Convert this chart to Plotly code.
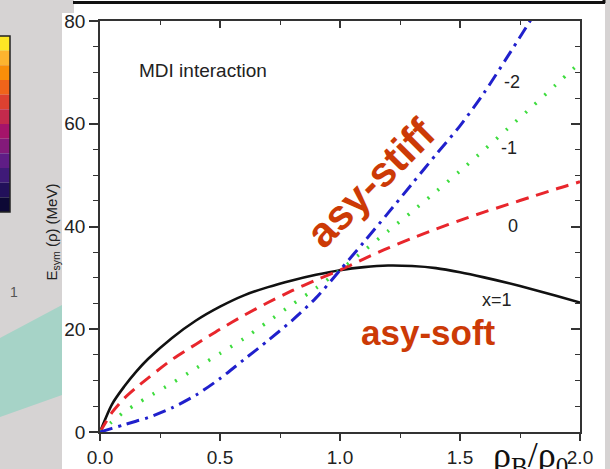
import plotly.graph_objects as go

# ---- data ----
rho = [0, 0.05, 0.1, 0.15, 0.2, 0.3, 0.4, 0.5, 0.6, 0.7, 0.8, 0.9, 1.0,
       1.1, 1.2, 1.3, 1.4, 1.5, 1.6, 1.7, 1.8, 1.9, 2.0]
esym_x1 = [0, 5.4, 8.8, 11.7, 14.2, 18.3, 21.7, 24.4, 26.6, 28.2, 29.5, 30.6, 31.5,
           32.1, 32.4, 32.3, 31.9, 31.1, 30.1, 29.0, 27.8, 26.5, 25.2]
esym_x0 = [0, 3.8, 6.5, 8.6, 10.5, 14.1, 17.1, 20.0, 22.7, 25.2, 27.5, 29.6, 31.5,
           33.7, 35.8, 37.7, 39.5, 41.2, 42.8, 44.3, 45.8, 47.3, 48.7]
esym_xm1 = [0, 2.0, 3.9, 5.4, 6.8, 9.5, 12.4, 15.3, 18.2, 21.5, 24.8, 28.0, 31.5,
            35.3, 39.1, 42.9, 46.8, 50.8, 54.9, 59.1, 63.3, 67.6, 71.9]
rho_m2 = [0, 0.05, 0.1, 0.15, 0.2, 0.3, 0.4, 0.5, 0.6, 0.7, 0.8, 0.9, 1.0,
          1.1, 1.2, 1.3, 1.4, 1.5, 1.6, 1.7, 1.8]
esym_xm2 = [0, 0.7, 1.4, 2.1, 2.8, 4.7, 7.2, 10.4, 14.1, 17.8, 21.7, 26.1, 31.5,
            37.0, 42.6, 48.3, 54.0, 59.6, 66.0, 73.2, 80.6]

x_ticks = [0.0, 0.5, 1.0, 1.5, 2.0]
y_ticks = [0, 20, 40, 60, 80]

W, H = 610, 469
L, R, T, B = 100, 580, 21, 432  # plot area in pixels


def px(x):
    return (x - L) / (R - L)


def py(y):
    return (B - y) / (B - T)


fig = go.Figure()

fig.add_trace(go.Scatter(x=rho, y=esym_x1, mode="lines",
                         line=dict(color="#111111", width=2.6, shape="spline", smoothing=0.8),
                         showlegend=False))
fig.add_trace(go.Scatter(x=rho, y=esym_x0, mode="lines",
                         line=dict(color="#e8262c", width=3, dash="13px,8px", shape="spline", smoothing=0.8),
                         showlegend=False))
fig.add_trace(go.Scatter(x=rho, y=esym_xm1, mode="lines",
                         line=dict(color="#3edc3e", width=3.5, dash="2px,11px", shape="spline", smoothing=0.8),
                         showlegend=False))
fig.add_trace(go.Scatter(x=rho_m2, y=esym_xm2, mode="lines",
                         line=dict(color="#2020cc", width=3, dash="13px,6px,3px,6px", shape="spline",
                                   smoothing=0.8),
                         showlegend=False))
# helper trace for the mirrored (top/right) axes
fig.add_trace(go.Scatter(x=[None], y=[None], xaxis="x2", yaxis="y2", showlegend=False, hoverinfo="skip"))

tickfont = dict(family="Liberation Sans, Arial, sans-serif", size=19, color="#222222")
axcol = "#333333"

fig.update_layout(
    width=W, height=H,
    margin=dict(l=L, r=W - R, t=T, b=H - B, autoexpand=False),
    paper_bgcolor="white", plot_bgcolor="white", showlegend=False,
    xaxis=dict(range=[0, 2], tickvals=x_ticks, ticktext=[f"{v:.1f}" for v in x_ticks],
               ticks="outside", ticklen=7, tickwidth=1.5, tickcolor=axcol, automargin=False,
               minor=dict(dtick=0.25, ticks="outside", ticklen=4, tickwidth=1.2, tickcolor=axcol),
               showline=True, linecolor=axcol, linewidth=1.6, showgrid=False, zeroline=False,
               tickfont=tickfont, fixedrange=True),
    yaxis=dict(range=[0, 80], tickvals=y_ticks, ticks="outside", ticklen=9, tickwidth=1.5, tickcolor=axcol,
               minor=dict(dtick=5, ticks="outside", ticklen=5, tickwidth=1.2, tickcolor=axcol),
               showline=True, linecolor=axcol, linewidth=1.6, showgrid=False, zeroline=False,
               tickfont=tickfont, fixedrange=True, automargin=False),
    xaxis2=dict(range=[0, 2], overlaying="x", side="top", tickvals=x_ticks, showticklabels=False,
                ticks="inside", ticklen=7, tickwidth=1.5, tickcolor=axcol, automargin=False,
                minor=dict(dtick=0.25, ticks="inside", ticklen=4, tickwidth=1.2, tickcolor=axcol),
                showline=True, linecolor=axcol, linewidth=1.6, showgrid=False, zeroline=False),
    yaxis2=dict(range=[0, 80], overlaying="y", side="right", tickvals=y_ticks, showticklabels=False,
                ticks="inside", ticklen=9, tickwidth=1.5, tickcolor=axcol, automargin=False,
                minor=dict(dtick=5, ticks="inside", ticklen=5, tickwidth=1.2, tickcolor=axcol),
                showline=True, linecolor=axcol, linewidth=1.6, showgrid=False, zeroline=False),
)

shapes = []
gray = "#d6d3d3"
# slide background on the left, top-left corner and right edge
shapes.append(dict(type="rect", xref="paper", yref="paper", x0=px(0), x1=px(62), y0=py(H), y1=py(0),
                   fillcolor=gray, line_width=0, layer="below"))
shapes.append(dict(type="rect", xref="paper", yref="paper", x0=px(62), x1=px(74), y0=py(13), y1=py(0),
                   fillcolor=gray, line_width=0, layer="below"))
shapes.append(dict(type="rect", xref="paper", yref="paper", x0=px(605), x1=px(W), y0=py(H), y1=py(0),
                   fillcolor=gray, line_width=0, layer="below"))
# black box border at the top
shapes.append(dict(type="line", xref="paper", yref="paper", x0=px(73), x1=px(605), y0=py(2.5), y1=py(2.5),
                   line=dict(color="#111111", width=3)))
shapes.append(dict(type="line", xref="paper", yref="paper", x0=px(604), x1=px(604), y0=py(3), y1=py(0),
                   line=dict(color="#111111", width=3)))
# colour-bar fragment
cb_cols = ["#fde725", "#fdb42f", "#f98e09", "#f0641a", "#dd4131", "#c42a4c",
           "#a5146a", "#831a7a", "#5f1d86", "#3f1a78", "#22105a", "#0d0835"]
top, bot = 36, 212
step = (bot - top) / len(cb_cols)
for i, c in enumerate(cb_cols):
    shapes.append(dict(type="rect", xref="paper", yref="paper", x0=px(0), x1=px(10),
                       y0=py(top + (i + 1) * step), y1=py(top + i * step), fillcolor=c, line_width=0))
shapes.append(dict(type="rect", xref="paper", yref="paper", x0=px(-2), x1=px(10), y0=py(bot), y1=py(top),
                   line=dict(color="#222222", width=1.5)))
# teal band
shapes.append(dict(type="path", xref="paper", yref="paper",
                   path=f"M {px(0)},{py(338)} L {px(62)},{py(305)} L {px(62)},{py(395)} L {px(0)},{py(417)} Z",
                   fillcolor="#a6d3c7", line_width=0))
fig.update_layout(shapes=shapes)

anns = []
anns.append(dict(text="1", xref="paper", yref="paper", x=px(8), y=py(292), showarrow=False,
                 font=dict(family="Liberation Sans, Arial", size=14, color="#555555")))
anns.append(dict(text="E<sub>sym</sub> (ρ) (MeV)", xref="paper", yref="paper", x=px(41), y=py(232),
                 textangle=-90, showarrow=False,
                 font=dict(family="Liberation Sans, Arial", size=15, color="#222222")))
anns.append(dict(text="MDI interaction", xref="paper", yref="paper", x=px(137), y=py(58), xanchor="left",
                 showarrow=False, font=dict(family="Liberation Sans, Arial", size=19, color="#222222")))
lblfont = dict(family="Liberation Sans, Arial", size=18, color="#222222")
anns.append(dict(text="-2", x=1.717, y=68.1, showarrow=False, font=lblfont))
anns.append(dict(text="-1", x=1.704, y=55.3, showarrow=False, font=lblfont))
anns.append(dict(text="0", x=1.72, y=40.1, showarrow=False, font=lblfont))
anns.append(dict(text="x=1", x=1.655, y=25.7, showarrow=False, font=lblfont))
anns.append(dict(text="<b>asy-stiff</b>", x=1.13, y=48.5, textangle=-45, showarrow=False,
                 font=dict(family="Liberation Sans, Arial", size=42, color="#cc3a06")))
anns.append(dict(text="<b>asy-soft</b>", x=1.367, y=19.3, showarrow=False,
                 font=dict(family="Liberation Sans, Arial", size=35, color="#cc3a06")))
anns.append(dict(text="ρ<sub>B</sub>/ρ<sub>0</sub>", xref="paper", yref="paper", x=px(491), y=py(458),
                 xanchor="left", yanchor="middle", showarrow=False,
                 font=dict(family="Liberation Serif, Times New Roman, serif", size=36, color="#111111")))
fig.update_layout(annotations=anns)

fig.write_html("out.html", config={"displayModeBar": False},
               post_script="document.body.style.margin='0';document.body.style.padding='0';"
                           "document.body.style.overflow='hidden';")
